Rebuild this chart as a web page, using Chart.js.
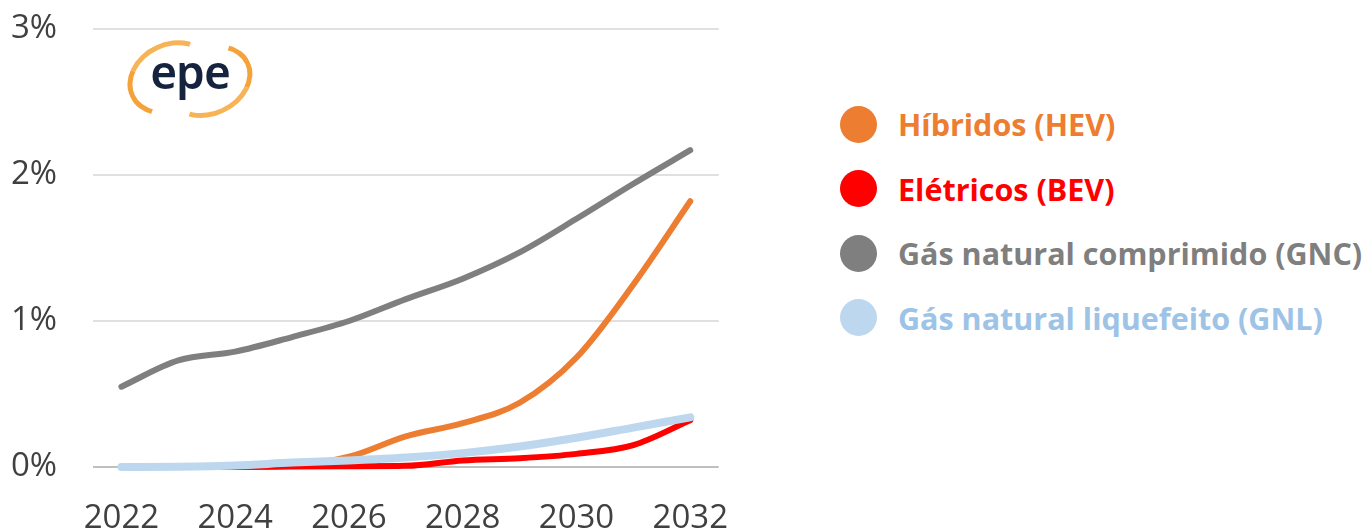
<!DOCTYPE html>
<html>
<head>
<meta charset="utf-8">
<script src="https://cdn.jsdelivr.net/npm/chart.js@4"></script>
<style>
  html, body { margin: 0; padding: 0; background: #fff; }
  body { width: 1372px; height: 529px; position: relative; overflow: hidden; font-family: 'Open Sans', 'Noto Sans', sans-serif; }
  #chartBox { position: absolute; left: 0; top: 0; width: 760px; height: 529px; }
  #legend { position: absolute; left: 840px; top: 92px; }
  .item { display: flex; align-items: center; height: 64.5px; white-space: nowrap; }
  .dot { width: 37px; height: 37px; border-radius: 50%; margin-right: 21px; flex: none; }
  .txt { font-weight: 700; font-size: 30.5px; letter-spacing: 0; }
  #logo { position: absolute; left: 124px; top: 38px; width: 128px; height: 74px; }
  #logo .ring1 { position: absolute; left: 2px; top: 4px; width: 80px; height: 62px; border-radius: 50%;
    border: 5px solid transparent; border-left-color: #f5a23a; border-top-color: #f7b456; transform: rotate(-25deg); }
  #logo .ring2 { position: absolute; left: 40px; top: 8px; width: 80px; height: 60px; border-radius: 50%;
    border: 5px solid transparent; border-right-color: #f5a23a; border-bottom-color: #f7b456; transform: rotate(-25deg); }
  #logo .word { position: absolute; left: 10px; top: 2px; width: 112px; text-align: center;
    font-family: 'Noto Sans', sans-serif; font-size: 46px; font-weight: 600; color: #15233f; letter-spacing: -1px; }
</style>
</head>
<body>
<div id="chartBox"><canvas id="fleetShareChart"></canvas></div>
<div id="logo"><div class="ring1"></div><div class="ring2"></div><div class="word">epe</div></div>
<div id="legend"></div>
<script>
const years = ['2022', '2023', '2024', '2025', '2026', '2027', '2028', '2029', '2030', '2031', '2032'];

// share of the fleet, in %
const hev = [0, 0, 0, 0.01, 0.07, 0.21, 0.30, 0.44, 0.75, 1.25, 1.82];
const bev = [0, 0, 0, 0.003, 0.005, 0.008, 0.045, 0.06, 0.09, 0.15, 0.32];
const gnc = [0.55, 0.73, 0.79, 0.89, 1.0, 1.15, 1.29, 1.47, 1.70, 1.94, 2.17];
const gnl = [0, 0.002, 0.01, 0.03, 0.045, 0.065, 0.095, 0.14, 0.20, 0.27, 0.34];

const seriesNames = ['Híbridos (HEV)', 'Elétricos (BEV)', 'Gás natural comprimido (GNC)', 'Gás natural liquefeito (GNL)'];
const lineColors = ['#ED7D31', '#FF0000', '#7F7F7F', '#BDD7EE'];
const textColors = ['#ED7D31', '#FF0000', '#7F7F7F', '#9DC3E6'];
const yTicks = [0, 1, 2, 3];

const allSeries = [hev, bev, gnc, gnl];
const widths = [6, 6, 6, 8];
const drawOrder = [2, 1, 3, 0];

const fleetShareData = {
  labels: years,
  datasets: allSeries.map((values, i) => ({
    label: seriesNames[i],
    data: values,
    borderColor: lineColors[i],
    backgroundColor: lineColors[i],
    borderWidth: widths[i],
    borderCapStyle: 'round',
    borderJoinStyle: 'round',
    pointRadius: 0,
    cubicInterpolationMode: 'monotone',
    clip: false,
    order: drawOrder[i]
  }))
};

const tickFont = { family: "'Open Sans', 'Noto Sans', sans-serif", size: 33 };

const fleetShareConfig = {
  type: 'line',
  data: fleetShareData,
  options: {
    responsive: true,
    maintainAspectRatio: false,
    animation: false,
    layout: { padding: { top: 29, right: 0, left: 11, bottom: 0 } },
    plugins: { legend: { display: false }, tooltip: { enabled: false } },
    scales: {
      x: {
        offset: true,
        grid: { display: false, drawTicks: false },
        border: { display: false },
        ticks: {
          autoSkip: false,
          maxRotation: 0,
          padding: 32,
          color: '#404040',
          font: tickFont,
          callback: (v, i) => (i % 2 === 0 ? years[i] : '')
        },
        afterFit: scale => { scale.height = 62; }
      },
      y: {
        min: 0,
        max: 3,
        afterBuildTicks: scale => { scale.ticks = yTicks.map(v => ({ value: v })); },
        grid: {
          drawTicks: false,
          lineWidth: 2,
          color: ctx => (ctx.tick && ctx.tick.value === 0 ? '#BFBFBF' : '#E0E0E0')
        },
        border: { display: false },
        ticks: {
          padding: 0,
          crossAlign: 'far',
          color: '#404040',
          font: tickFont,
          callback: v => v + '%'
        },
        afterFit: scale => { scale.width = 82; }
      }
    }
  }
};

const fleetShareChart = new Chart(document.getElementById('fleetShareChart'), fleetShareConfig);

const legend = document.getElementById('legend');
seriesNames.forEach((name, i) => {
  const item = document.createElement('div');
  item.className = 'item';
  const dot = document.createElement('span');
  dot.className = 'dot';
  dot.style.background = lineColors[i];
  const txt = document.createElement('span');
  txt.className = 'txt';
  txt.style.color = textColors[i];
  txt.textContent = name;
  item.appendChild(dot);
  item.appendChild(txt);
  legend.appendChild(item);
});
</script>
</body>
</html>
